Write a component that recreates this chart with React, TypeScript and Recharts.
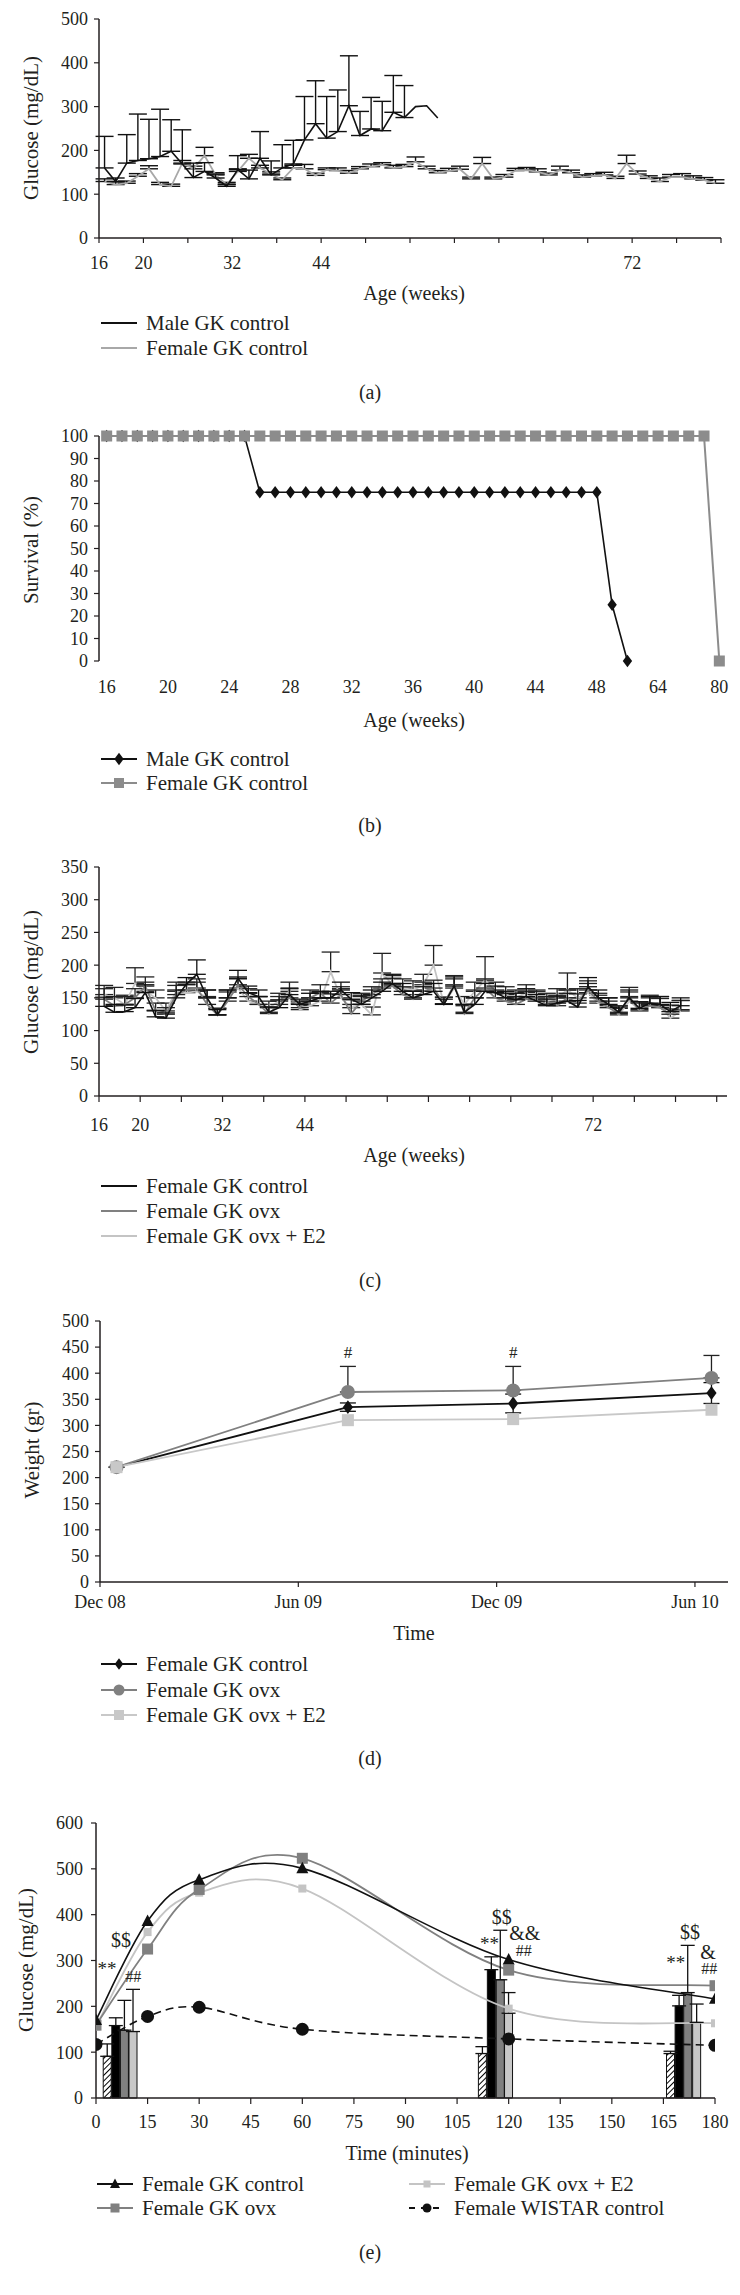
import React from 'react';
import {
  ComposedChart,
  Line,
  Bar,
  Cell,
  XAxis,
  YAxis,
  ErrorBar,
  ReferenceDot,
} from 'recharts';

const FONT = "'Liberation Serif', 'Times New Roman', serif";
const INK = '#231f20';

// ---------- (a) glucose by age, male vs female ----------
const ageTicksA = [0, 4, 8, 12, 16, 20, 24, 28, 32, 36, 40, 44, 48, 52, 56];
const ageLabelsA: Record<number, string> = { 0: '16', 4: '20', 12: '32', 20: '44', 48: '72' };
const maleGlucoseA = [
  160, 129, 171, 177, 181, 186, 198, 169, 138, 152,
  137, 118, 156, 135, 182, 144, 160, 169, 224, 261,
  228, 243, 302, 234, 249, 245, 287, 275, 300, 302,
  274,
];
const maleErrA = [
  72, 8, 65, 106, 90, 108, 72, 78, 33, 20,
  9, 5, 32, 20, 61, 32, 53, 54, 99, 98,
  95, 95, 114, 55, 72, 67, 84, 73, null, null,
  null,
];
const femaleGlucoseA = [
  129, 122, 125, 141, 158, 122, 118, 171, 158, 188,
  144, 122, 152, 182, 160, 146, 133, 160, 158, 143,
  156, 154, 148, 158, 163, 167, 160, 163, 174, 158,
  149, 153, 157, 135, 170, 135, 139, 154, 155, 151,
  144, 155, 149, 139, 142, 144, 136, 170, 146, 136,
  129, 139, 139, 135, 132, 125,
];
const femaleErrA = [
  6, 6, 5, 6, 7, 5, 5, 6, 6, 19,
  5, 5, 6, 9, 6, 5, 4, 6, 10, 5,
  4, 6, 6, 5, 6, 5, 6, 5, 11, 6,
  5, 6, 7, 4, 14, 4, 6, 5, 6, 7,
  4, 9, 6, 5, 5, 6, 5, 19, 7, 6,
  8, 6, 8, 7, 6, 8,
];

// ---------- (b) survival ----------
const survivalWeeks = [
  '16', '17', '18', '19', '20', '21', '22', '23', '24', '25', '26', '27', '28', '29', '30', '31',
  '32', '33', '34', '35', '36', '37', '38', '39', '40', '41', '42', '43', '44', '45', '46', '47',
  '48', '52', '56', '60', '64', '68', '72', '76', '80',
];
const maleSurvival = [
  100, 100, 100, 100, 100, 100, 100, 100, 100, 100,
  75, 75, 75, 75, 75, 75, 75, 75, 75, 75, 75, 75, 75, 75, 75, 75, 75, 75, 75, 75, 75, 75, 75,
  25, 0,
];
const femaleSurvival = [
  100, 100, 100, 100, 100, 100, 100, 100, 100, 100,
  100, 100, 100, 100, 100, 100, 100, 100, 100, 100,
  100, 100, 100, 100, 100, 100, 100, 100, 100, 100,
  100, 100, 100, 100, 100, 100, 100, 100, 100, 100,
  0,
];

// ---------- (c) glucose, female groups ----------
const ageTicksC = [0, 4, 8, 12, 16, 20, 24, 28, 32, 36, 40, 44, 48, 52, 56, 60];
const controlC = [
  137, 128, 129, 135, 158, 121, 119, 150, 171, 186,
  150, 124, 150, 180, 158, 152, 128, 135, 155, 140,
  145, 150, 150, 162, 148, 140, 150, 160, 172, 160,
  150, 155, 160, 140, 168, 128, 140, 160, 158, 150,
  147, 152, 145, 138, 142, 145, 136, 167, 150, 140,
  128, 150, 134, 142, 140, 129, 138,
];
const ovxC = [
  148, 138, 140, 150, 168, 130, 125, 155, 162, 165,
  140, 124, 145, 170, 152, 140, 126, 140, 150, 135,
  150, 158, 142, 155, 126, 145, 155, 165, 168, 155,
  148, 160, 165, 141, 170, 126, 150, 165, 150, 145,
  140, 148, 150, 140, 138, 150, 142, 162, 145, 135,
  126, 152, 130, 138, 135, 125, 132,
];
const e2C = [
  155, 150, 140, 172, 160, 150, 130, 160, 158, 160,
  150, 124, 150, 165, 145, 140, 135, 145, 160, 132,
  138, 145, 190, 150, 135, 140, 124, 188, 170, 165,
  162, 170, 200, 141, 165, 140, 160, 177, 160, 155,
  150, 158, 148, 145, 150, 162, 150, 158, 142, 138,
  124, 145, 132, 140, 138, 119, 130,
];
const controlErrC = [
  14, 12, 10, 14, 12, 10, 8, 12, 10, 22,
  12, 8, 12, 12, 10, 10, 8, 12, 10, 8,
  12, 10, 10, 12, 10, 14, 12, 14, 14, 12,
  10, 12, 12, 8, 14, 12, 10, 12, 10, 10,
  10, 12, 10, 10, 12, 12, 10, 14, 12, 10,
  8, 12, 10, 10, 12, 14, 12,
];
const ovxErrC = [
  16, 14, 12, 14, 14, 12, 10, 14, 12, 14,
  12, 10, 14, 12, 12, 12, 10, 12, 14, 10,
  12, 12, 14, 12, 14, 12, 12, 14, 12, 12,
  12, 14, 12, 10, 14, 12, 12, 14, 12, 12,
  12, 12, 12, 12, 14, 12, 14, 14, 12, 10,
  12, 14, 12, 12, 14, 14, 14,
];
const e2ErrC = [
  14, 16, 14, 24, 14, 12, 12, 14, 12, 14,
  12, 10, 12, 14, 12, 12, 10, 12, 14, 10,
  12, 12, 30, 14, 12, 12, 12, 30, 14, 14,
  14, 16, 30, 10, 14, 12, 14, 36, 14, 12,
  12, 12, 12, 12, 14, 26, 14, 14, 12, 12,
  10, 14, 12, 14, 14, 14, 16,
];

// ---------- (d) body weight ----------
const monthTicks = [0, 6, 12, 18];
const monthLabels: Record<number, string> = { 0: 'Dec 08', 6: 'Jun 09', 12: 'Dec 09', 18: 'Jun 10' };
const weighMonths = [0.5, 7.5, 12.5, 18.5];
const controlWeight = [220, 335, 342, 362];
const ovxWeight = [220, 364, 367, 391];
const e2Weight = [220, 310, 312, 330];
const controlWeightErr = [0, 8, 18, 20];
const ovxWeightErr = [0, 49, 46, 43];
const weightMarks = [
  { x: 7.5, y: 440, text: '#' },
  { x: 12.5, y: 440, text: '#' },
];

// ---------- (e) glucose tolerance ----------
const minutes = [0, 15, 30, 60, 120, 180];
const controlE = [170, 386, 476, 501, 302, 216];
const ovxE = [159, 325, 455, 523, 279, 245];
const e2E = [156, 362, 448, 457, 195, 163];
const wistarE = [117, 178, 198, 150, 129, 115];
const barMinutes = [3.3, 5.8, 8.3, 10.8, 112.4, 115, 117.6, 120, 167.1, 169.6, 172.1, 174.7];
const barGroups = ['wistar', 'control', 'ovx', 'e2', 'wistar', 'control', 'ovx', 'e2', 'wistar', 'control', 'ovx', 'e2'];
const barValues = [91, 158, 148, 145, 97, 280, 258, 185, 97, 201, 230, 165];
const barErrors = [27, 17, 65, 92, 15, 28, 108, 45, 5, 23, 103, 40];
const glucoseMarks = [
  { x: 7.3, y: 345, text: '$$', size: 20 },
  { x: 3.2, y: 282, text: '**', size: 19 },
  { x: 10.8, y: 266, text: '##', size: 16 },
  { x: 118, y: 395, text: '$$', size: 20 },
  { x: 124.7, y: 360, text: '&&', size: 20 },
  { x: 114.4, y: 338, text: '**', size: 19 },
  { x: 124.4, y: 323, text: '##', size: 16 },
  { x: 172.7, y: 362, text: '$$', size: 20 },
  { x: 178, y: 319, text: '&', size: 20 },
  { x: 168.6, y: 297, text: '**', size: 19 },
  { x: 178.3, y: 284, text: '##', size: 16 },
];

const barFill: Record<string, string> = {
  wistar: 'url(#hatch)',
  control: '#000000',
  ovx: '#808080',
  e2: '#c8c8c8',
};

// tables built from the arrays above
const aRows = femaleGlucoseA.map((v, i) => ({
  x: i + 0.5,
  female: v,
  femaleErr: [0, femaleErrA[i]],
  male: i < maleGlucoseA.length ? maleGlucoseA[i] : null,
  maleErr: maleErrA[i] != null ? [0, maleErrA[i]] : null,
}));

const bRows = survivalWeeks.map((w, i) => ({
  x: i,
  week: w,
  male: i < maleSurvival.length ? maleSurvival[i] : null,
  female: femaleSurvival[i],
}));
const bLabelTicks = [0, 4, 8, 12, 16, 20, 24, 28, 32, 36, 40];
const bMarkTicks = survivalWeeks.map((_, i) => i - 0.5).concat([survivalWeeks.length - 0.5]);

const cRows = controlC.map((v, i) => ({
  x: i + 0.5,
  control: v,
  ovx: ovxC[i],
  e2: e2C[i],
  controlErr: [0, controlErrC[i]],
  ovxErr: [0, ovxErrC[i]],
  e2Err: [0, e2ErrC[i]],
}));

const dRows = weighMonths.map((m, i) => ({
  x: m,
  control: controlWeight[i],
  ovx: ovxWeight[i],
  e2: e2Weight[i],
  controlErr: controlWeightErr[i],
  ovxErr: [0, ovxWeightErr[i]],
}));

type ERow = {
  t: number;
  control?: number;
  ovx?: number;
  e2?: number;
  wistar?: number;
  bar?: number;
  barErr?: number[];
  kind?: string;
};
const eMap = new Map<number, ERow>();
minutes.forEach((t, i) => {
  eMap.set(t, { t, control: controlE[i], ovx: ovxE[i], e2: e2E[i], wistar: wistarE[i] });
});
barMinutes.forEach((t, i) => {
  const prev = eMap.get(t) ?? { t };
  eMap.set(t, { ...prev, bar: barValues[i], barErr: [0, barErrors[i]], kind: barGroups[i] });
});
const eRows = Array.from(eMap.values()).sort((a, b) => a.t - b.t);

// Excel-style smoothed line (Catmull-Rom as cubic Bezier), used as a d3 curve factory
function excelSmooth(context: any) {
  let pts: number[][] = [];
  return {
    areaStart() {},
    areaEnd() {},
    lineStart() {
      pts = [];
    },
    point(x: number, y: number) {
      pts.push([+x, +y]);
    },
    lineEnd() {
      const n = pts.length;
      if (n === 0) return;
      context.moveTo(pts[0][0], pts[0][1]);
      for (let i = 0; i < n - 1; i++) {
        const p0 = pts[i - 1] ?? pts[i];
        const p1 = pts[i];
        const p2 = pts[i + 1];
        const p3 = pts[i + 2] ?? p2;
        context.bezierCurveTo(
          p1[0] + (p2[0] - p0[0]) / 6,
          p1[1] + (p2[1] - p0[1]) / 6,
          p2[0] - (p3[0] - p1[0]) / 6,
          p2[1] - (p3[1] - p1[1]) / 6,
          p2[0],
          p2[1],
        );
      }
    },
  };
}

// ---------- helpers ----------
type Shape = 'diamond' | 'square' | 'circle' | 'triangle';

function markerDot(shape: Shape, size: number, fill: string) {
  return (p: any) => {
    const { cx, cy, index } = p;
    const key = `m-${shape}-${index}`;
    if (cx == null || cy == null || Number.isNaN(cx) || Number.isNaN(cy)) return <g key={key} />;
    const h = size / 2;
    if (shape === 'circle') return <circle key={key} cx={cx} cy={cy} r={h} fill={fill} />;
    if (shape === 'square') return <rect key={key} x={cx - h} y={cy - h} width={size} height={size} fill={fill} />;
    if (shape === 'diamond')
      return (
        <polygon
          key={key}
          points={`${cx},${cy - h * 1.15} ${cx + h * 0.85},${cy} ${cx},${cy + h * 1.15} ${cx - h * 0.85},${cy}`}
          fill={fill}
        />
      );
    return (
      <polygon
        key={key}
        points={`${cx},${cy - h * 1.1} ${cx + h},${cy + h * 0.8} ${cx - h},${cy + h * 0.8}`}
        fill={fill}
      />
    );
  };
}

function Txt({
  x,
  y,
  size = 20,
  rotate = false,
  children,
}: {
  x: number;
  y: number;
  size?: number;
  rotate?: boolean;
  children: React.ReactNode;
}) {
  return (
    <div
      style={{
        position: 'absolute',
        left: x,
        top: y,
        transform: `translate(-50%, -50%)${rotate ? ' rotate(-90deg)' : ''}`,
        fontSize: size,
        lineHeight: 1,
        whiteSpace: 'nowrap',
      }}
    >
      {children}
    </div>
  );
}

type LegendItem = { label: string; color: string; shape?: Shape; size?: number; dash?: string; width?: number };

function LegendRow({ x, y, item }: { x: number; y: number; item: LegendItem }) {
  return (
    <div
      style={{
        position: 'absolute',
        left: x,
        top: y - 12,
        height: 24,
        display: 'flex',
        alignItems: 'center',
        fontSize: 21,
        whiteSpace: 'nowrap',
      }}
    >
      <svg width={36} height={24} style={{ marginRight: 9 }}>
        <line x1={0} y1={12} x2={36} y2={12} stroke={item.color} strokeWidth={item.width ?? 2} strokeDasharray={item.dash} />
        {item.shape ? markerDot(item.shape, item.size ?? 10, item.color)({ cx: 18, cy: 12, index: 0 }) : null}
      </svg>
      <span>{item.label}</span>
    </div>
  );
}

const axisLine = { stroke: INK, strokeWidth: 1.5 };
const tickLine = { stroke: INK, strokeWidth: 1.2 };
const tickStyle = { fill: INK, fontSize: 18, fontFamily: FONT };

// ---------- panels ----------
function PanelA() {
  return (
    <div style={{ position: 'absolute', top: 0, left: 0 }}>
      <ComposedChart width={740} height={290} data={aRows} margin={{ top: 19, right: 19, bottom: 12, left: 39 }}>
        <XAxis
          type="number"
          dataKey="x"
          domain={[0, 56]}
          ticks={ageTicksA}
          interval={0}
          tickFormatter={(v: number) => ageLabelsA[v] ?? ''}
          height={40}
          tickSize={5}
          tickMargin={13}
          axisLine={axisLine}
          tickLine={tickLine}
          tick={tickStyle}
        />
        <YAxis
          type="number"
          domain={[0, 500]}
          ticks={[0, 100, 200, 300, 400, 500]}
          interval={0}
          width={60}
          tickSize={5}
          tickMargin={6}
          axisLine={axisLine}
          tickLine={tickLine}
          tick={tickStyle}
        />
        <Line dataKey="female" stroke="#a8a8a8" strokeWidth={1.8} dot={false} isAnimationActive={false}>
          <ErrorBar dataKey="femaleErr" direction="y" width={9} stroke="#111" strokeWidth={1.4} />
        </Line>
        <Line dataKey="male" stroke="#111" strokeWidth={1.6} dot={false} isAnimationActive={false}>
          <ErrorBar dataKey="maleErr" direction="y" width={9} stroke="#111" strokeWidth={1.4} />
        </Line>
      </ComposedChart>
      <Txt x={31} y={128} size={21} rotate>
        Glucose (mg/dL)
      </Txt>
      <Txt x={414} y={293}>Age (weeks)</Txt>
      <LegendRow x={101} y={323} item={{ label: 'Male GK control', color: '#111' }} />
      <LegendRow x={101} y={348} item={{ label: 'Female GK control', color: '#a8a8a8' }} />
      <Txt x={370} y={392}>(a)</Txt>
    </div>
  );
}

function PanelB() {
  return (
    <div style={{ position: 'absolute', top: 420, left: 0, width: 740, height: 420 }}>
      <ComposedChart width={740} height={290} data={bRows} margin={{ top: 16, right: 13, bottom: 9, left: 39 }}>
        <XAxis
          xAxisId="mk"
          type="number"
          dataKey="x"
          domain={[-0.5, 40.5]}
          allowDataOverflow
          ticks={bMarkTicks}
          interval={0}
          tickFormatter={() => ''}
          height={0}
          tickSize={6}
          axisLine={axisLine}
          tickLine={tickLine}
        />
        <XAxis
          xAxisId="lab"
          type="number"
          dataKey="x"
          domain={[-0.5, 40.5]}
          allowDataOverflow
          ticks={bLabelTicks}
          interval={0}
          tickFormatter={(v: number) => survivalWeeks[v] ?? ''}
          height={40}
          tickSize={6}
          tickMargin={13}
          axisLine={false}
          tickLine={false}
          tick={tickStyle}
        />
        <YAxis
          type="number"
          domain={[0, 100]}
          ticks={[0, 10, 20, 30, 40, 50, 60, 70, 80, 90, 100]}
          interval={0}
          width={60}
          tickSize={5}
          tickMargin={6}
          axisLine={axisLine}
          tickLine={tickLine}
          tick={tickStyle}
        />
        <Line xAxisId="mk" dataKey="none" stroke="none" dot={false} isAnimationActive={false} />
        <Line
          xAxisId="lab"
          dataKey="male"
          stroke="#111"
          strokeWidth={1.6}
          dot={markerDot('diamond', 11, '#111')}
          isAnimationActive={false}
        />
        <Line
          xAxisId="lab"
          dataKey="female"
          stroke="#8c8c8c"
          strokeWidth={2}
          dot={markerDot('square', 11, '#8c8c8c')}
          isAnimationActive={false}
        />
      </ComposedChart>
      <Txt x={31} y={130} size={21} rotate>
        Survival (%)
      </Txt>
      <Txt x={414} y={300}>Age (weeks)</Txt>
      <LegendRow x={101} y={339} item={{ label: 'Male GK control', color: '#111', shape: 'diamond', size: 11 }} />
      <LegendRow x={101} y={363} item={{ label: 'Female GK control', color: '#8c8c8c', shape: 'square', size: 10 }} />
      <Txt x={370} y={405}>(b)</Txt>
    </div>
  );
}

function PanelC() {
  return (
    <div style={{ position: 'absolute', top: 850, left: 0 }}>
      <ComposedChart width={740} height={290} data={cRows} margin={{ top: 17, right: 13, bottom: 4, left: 39 }}>
        <XAxis
          type="number"
          dataKey="x"
          domain={[0, 61]}
          allowDataOverflow
          ticks={ageTicksC}
          interval={0}
          tickFormatter={(v: number) => ageLabelsA[v] ?? ''}
          height={40}
          tickSize={6}
          tickMargin={16}
          axisLine={axisLine}
          tickLine={tickLine}
          tick={tickStyle}
        />
        <YAxis
          type="number"
          domain={[0, 350]}
          ticks={[0, 50, 100, 150, 200, 250, 300, 350]}
          interval={0}
          width={60}
          tickSize={5}
          tickMargin={6}
          axisLine={axisLine}
          tickLine={tickLine}
          tick={tickStyle}
        />
        <Line dataKey="e2" stroke="#c4c4c4" strokeWidth={1.8} dot={false} isAnimationActive={false}>
          <ErrorBar dataKey="e2Err" direction="y" width={9} stroke="#222" strokeWidth={1.3} />
        </Line>
        <Line dataKey="ovx" stroke="#808080" strokeWidth={1.8} dot={false} isAnimationActive={false}>
          <ErrorBar dataKey="ovxErr" direction="y" width={9} stroke="#222" strokeWidth={1.3} />
        </Line>
        <Line dataKey="control" stroke="#111" strokeWidth={1.6} dot={false} isAnimationActive={false}>
          <ErrorBar dataKey="controlErr" direction="y" width={9} stroke="#111" strokeWidth={1.3} />
        </Line>
      </ComposedChart>
      <Txt x={31} y={132} size={21} rotate>
        Glucose (mg/dL)
      </Txt>
      <Txt x={414} y={305}>Age (weeks)</Txt>
      <LegendRow x={101} y={336} item={{ label: 'Female GK control', color: '#111' }} />
      <LegendRow x={101} y={361} item={{ label: 'Female GK ovx', color: '#808080' }} />
      <LegendRow x={101} y={386} item={{ label: 'Female GK ovx + E2', color: '#c4c4c4' }} />
      <Txt x={370} y={430}>(c)</Txt>
    </div>
  );
}

function PanelD() {
  return (
    <div style={{ position: 'absolute', top: 1305, left: 0 }}>
      <ComposedChart width={740} height={320} data={dRows} margin={{ top: 16, right: 12, bottom: 3, left: 40 }}>
        <XAxis
          type="number"
          dataKey="x"
          domain={[0, 19]}
          allowDataOverflow
          ticks={monthTicks}
          interval={0}
          tickFormatter={(v: number) => monthLabels[v] ?? ''}
          height={40}
          tickSize={5}
          tickMargin={8}
          axisLine={axisLine}
          tickLine={tickLine}
          tick={tickStyle}
        />
        <YAxis
          type="number"
          domain={[0, 500]}
          ticks={[0, 50, 100, 150, 200, 250, 300, 350, 400, 450, 500]}
          interval={0}
          width={60}
          tickSize={5}
          tickMargin={6}
          axisLine={axisLine}
          tickLine={tickLine}
          tick={tickStyle}
        />
        <Line
          dataKey="control"
          stroke="#111"
          strokeWidth={1.8}
          dot={markerDot('diamond', 12, '#111')}
          isAnimationActive={false}
        >
          <ErrorBar dataKey="controlErr" direction="y" width={8} stroke="#111" strokeWidth={1.3} />
        </Line>
        <Line
          dataKey="ovx"
          stroke="#808080"
          strokeWidth={1.8}
          dot={markerDot('circle', 14, '#808080')}
          isAnimationActive={false}
        >
          <ErrorBar dataKey="ovxErr" direction="y" width={8} stroke="#222" strokeWidth={1.3} />
        </Line>
        <Line
          dataKey="e2"
          stroke="#c8c8c8"
          strokeWidth={1.8}
          dot={markerDot('square', 12, '#c8c8c8')}
          isAnimationActive={false}
        />
        {weightMarks.map((m, i) => (
          <ReferenceDot
            key={`wm-${i}`}
            x={m.x}
            y={m.y}
            r={0}
            fill="none"
            stroke="none"
            label={{ value: m.text, position: 'center', fontSize: 17, fill: INK }}
          />
        ))}
      </ComposedChart>
      <Txt x={32} y={145} size={21} rotate>
        Weight (gr)
      </Txt>
      <Txt x={414} y={328}>Time</Txt>
      <LegendRow x={101} y={359} item={{ label: 'Female GK control', color: '#111', shape: 'diamond', size: 10 }} />
      <LegendRow x={101} y={385} item={{ label: 'Female GK ovx', color: '#808080', shape: 'circle', size: 11 }} />
      <LegendRow x={101} y={410} item={{ label: 'Female GK ovx + E2', color: '#c8c8c8', shape: 'square', size: 10 }} />
      <Txt x={370} y={453}>(d)</Txt>
    </div>
  );
}

function PanelE() {
  return (
    <div style={{ position: 'absolute', top: 1805, left: 0 }}>
      <ComposedChart width={740} height={330} data={eRows} margin={{ top: 18, right: 25, bottom: 7, left: 36 }}>
        <defs>
          <pattern id="hatch" patternUnits="userSpaceOnUse" width={4} height={4} patternTransform="rotate(45)">
            <rect width={4} height={4} fill="#fff" />
            <line x1={0} y1={0} x2={0} y2={4} stroke="#000" strokeWidth={2} />
          </pattern>
        </defs>
        <XAxis
          type="number"
          dataKey="t"
          domain={[0, 180]}
          allowDataOverflow
          ticks={[0, 15, 30, 45, 60, 75, 90, 105, 120, 135, 150, 165, 180]}
          interval={0}
          height={30}
          tickSize={6}
          tickMargin={11}
          axisLine={axisLine}
          tickLine={tickLine}
          tick={tickStyle}
        />
        <YAxis
          type="number"
          domain={[0, 600]}
          ticks={[0, 100, 200, 300, 400, 500, 600]}
          interval={0}
          width={60}
          tickSize={5}
          tickMargin={8}
          axisLine={axisLine}
          tickLine={tickLine}
          tick={tickStyle}
        />
        <Line
          type={excelSmooth as any}
          dataKey="wistar"
          connectNulls
          stroke="#111"
          strokeWidth={1.6}
          strokeDasharray="8 5"
          dot={markerDot('circle', 13, '#111')}
          isAnimationActive={false}
        />
        <Line
          type={excelSmooth as any}
          dataKey="e2"
          connectNulls
          stroke="#c4c4c4"
          strokeWidth={1.8}
          dot={markerDot('square', 8, '#c4c4c4')}
          isAnimationActive={false}
        />
        <Line
          type={excelSmooth as any}
          dataKey="ovx"
          connectNulls
          stroke="#808080"
          strokeWidth={1.8}
          dot={markerDot('square', 11, '#808080')}
          isAnimationActive={false}
        />
        <Line
          type={excelSmooth as any}
          dataKey="control"
          connectNulls
          stroke="#111"
          strokeWidth={1.6}
          dot={markerDot('triangle', 12, '#111')}
          isAnimationActive={false}
        />
        <Bar dataKey="bar" barSize={8} stroke="#111" strokeWidth={1} isAnimationActive={false}>
          {eRows.map((r, i) => (
            <Cell key={`c-${i}`} fill={r.kind ? barFill[r.kind] : 'none'} />
          ))}
          <ErrorBar dataKey="barErr" direction="y" width={7} stroke="#111" strokeWidth={1.3} />
        </Bar>
        {glucoseMarks.map((m, i) => (
          <ReferenceDot
            key={`gm-${i}`}
            x={m.x}
            y={m.y}
            r={0}
            fill="none"
            stroke="none"
            label={{ value: m.text, position: 'center', fontSize: m.size, fill: INK }}
          />
        ))}
      </ComposedChart>
      <Txt x={26} y={155} size={21} rotate>
        Glucose (mg/dL)
      </Txt>
      <Txt x={407} y={348}>Time (minutes)</Txt>
      <LegendRow x={97} y={379} item={{ label: 'Female GK control', color: '#111', shape: 'triangle', size: 10 }} />
      <LegendRow x={97} y={403} item={{ label: 'Female GK ovx', color: '#808080', shape: 'square', size: 9 }} />
      <LegendRow x={409} y={379} item={{ label: 'Female GK ovx + E2', color: '#c4c4c4', shape: 'square', size: 7 }} />
      <LegendRow x={409} y={403} item={{ label: 'Female WISTAR control', color: '#111', shape: 'circle', size: 9, dash: '6 6' }} />
      <Txt x={370} y={447}>(e)</Txt>
    </div>
  );
}

export default function App() {
  return (
    <div
      style={{
        position: 'absolute',
        top: 0,
        left: 0,
        width: 740,
        height: 2295,
        background: '#fff',
        fontFamily: FONT,
        color: INK,
        overflow: 'hidden',
      }}
    >
      <PanelA />
      <PanelB />
      <PanelC />
      <PanelD />
      <PanelE />
    </div>
  );
}
